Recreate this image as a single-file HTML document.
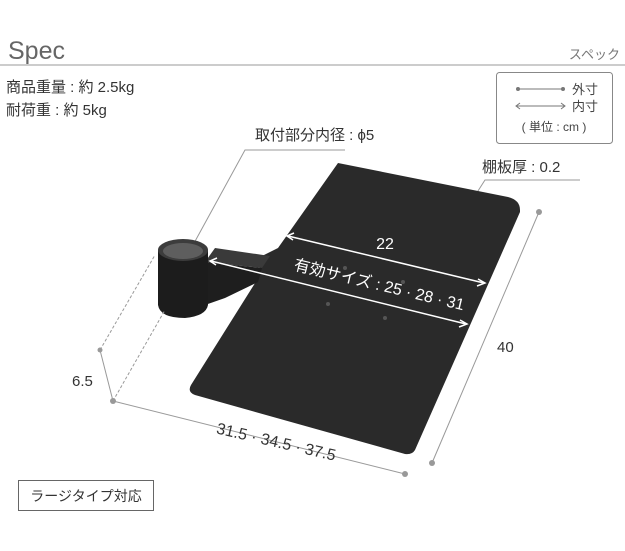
<!DOCTYPE html>
<html><head><meta charset="utf-8"><style>
body{margin:0;width:625px;height:546px;background:#fff;overflow:hidden;font-family:"Liberation Sans","Noto Sans CJK JP",sans-serif;}
svg text{font-family:"Liberation Sans","Noto Sans CJK JP",sans-serif;}
</style></head><body>
<svg width="625" height="546" viewBox="0 0 625 546" xmlns="http://www.w3.org/2000/svg">
<text x="8" y="59" font-size="25" fill="#666" font-weight="300">Spec</text>
<text x="620" y="59" font-size="13" fill="#777" text-anchor="end">スペック</text>
<line x1="0" y1="65" x2="625" y2="65" stroke="#999" stroke-width="1"/>
<text x="6" y="92" font-size="15" fill="#333">商品重量 : 約 2.5kg</text>
<text x="6" y="115" font-size="15" fill="#333">耐荷重 : 約 5kg</text>
<rect x="496.5" y="72.5" width="116" height="71" rx="3" fill="#fff" stroke="#888"/>
<line x1="518" y1="89" x2="563" y2="89" stroke="#777"/><circle cx="518" cy="89" r="2" fill="#777"/><circle cx="563" cy="89" r="2" fill="#777"/>
<text x="572" y="94" font-size="13" fill="#444">外寸</text>
<line x1="516" y1="106" x2="565" y2="106" stroke="#777"/>
<path d="M520 103 L516 106 L520 109 M561 103 L565 106 L561 109" fill="none" stroke="#777"/>
<text x="572" y="111" font-size="13" fill="#444">内寸</text>
<text x="554" y="131" font-size="12" fill="#444" text-anchor="middle">( 単位 : cm )</text>
<text x="255" y="140" font-size="15" fill="#333">取付部分内径 : ϕ5</text>
<polyline points="193,245 245,150 345,150" fill="none" stroke="#999"/>
<text x="482" y="172" font-size="15" fill="#333">棚板厚 : 0.2</text>
<polyline points="453,230 485,180 580,180" fill="none" stroke="#999"/>
<!-- shelf -->
<path d="M338 163 L508 197 Q520 200 520 210 L520 212 L415 450 Q412 455 405 454 L195 395 Q187 392 191 385 L257 280 L262 256 L278 248 Z" fill="#2a2a2a"/>
<!-- arm -->
<path d="M215 248 L270 256 L262 268 L205 262 Z" fill="#3a3a3a"/>
<path d="M205 262 L262 268 L258 282 L225 298 L205 305 Z" fill="#1e1e1e"/>
<path d="M158 250 L158 305 Q160 318 185 318 Q206 316 208 305 L208 250 Z" fill="#1c1c1c"/>
<ellipse cx="183" cy="250" rx="25" ry="11" fill="#3c3c3c"/>
<ellipse cx="183" cy="251" rx="20" ry="8" fill="#5e5e5e"/>
<circle cx="345" cy="268" r="2" fill="#555"/><circle cx="403" cy="282" r="2" fill="#555"/>
<circle cx="328" cy="304" r="2" fill="#555"/><circle cx="385" cy="318" r="2" fill="#555"/>
<!-- inner arrows -->
<line x1="288" y1="236" x2="484" y2="283" stroke="#fff" stroke-width="1.5"/>
<path d="M294 233 L287 236 L293 240 M478 279 L485 283 L477 286" fill="none" stroke="#fff" stroke-width="1.5"/>
<text x="385" y="249" font-size="16" fill="#fff" text-anchor="middle">22</text>
<line x1="211" y1="261" x2="466" y2="324" stroke="#fff" stroke-width="1.5"/>
<path d="M217 258 L210 261 L216 265 M460 320 L467 324 L459 327" fill="none" stroke="#fff" stroke-width="1.5"/>
<text x="378" y="290" font-size="16" fill="#fff" text-anchor="middle" transform="rotate(13.5 378 290)">有効サイズ : 25 · 28 · 31</text>
<!-- outer dims -->
<line x1="539" y1="212" x2="432" y2="463" stroke="#999"/>
<circle cx="539" cy="212" r="3" fill="#999"/><circle cx="432" cy="463" r="3" fill="#999"/>
<text x="497" y="352" font-size="15" fill="#333">40</text>
<line x1="113" y1="401" x2="405" y2="474" stroke="#999"/>
<circle cx="113" cy="401" r="3" fill="#999"/><circle cx="405" cy="474" r="3" fill="#999"/>
<text x="275" y="447" font-size="16" fill="#333" text-anchor="middle" transform="rotate(13 275 447)">31.5 · 34.5 · 37.5</text>
<line x1="100" y1="350" x2="113" y2="401" stroke="#999"/>
<circle cx="100" cy="350" r="2.5" fill="#999"/>
<line x1="100" y1="350" x2="155" y2="255" stroke="#999" stroke-dasharray="3,2"/>
<line x1="113" y1="401" x2="165" y2="310" stroke="#999" stroke-dasharray="3,2"/>
<text x="72" y="386" font-size="15" fill="#333">6.5</text>
<rect x="18.5" y="480.5" width="135" height="30" fill="#fff" stroke="#666"/>
<text x="86" y="501" font-size="14" fill="#333" text-anchor="middle">ラージタイプ対応</text>
</svg>
</body></html>
